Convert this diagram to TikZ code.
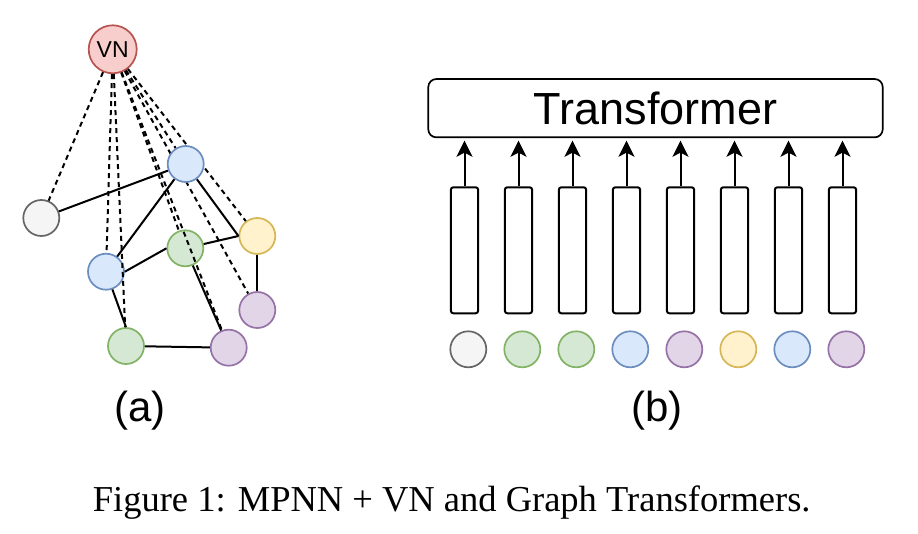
\documentclass[tikz,border=0pt]{standalone}
\usepackage{fontspec}
\setmainfont{Liberation Sans}
\newfontfamily\capfont{Liberation Serif}
\usetikzlibrary{calc,positioning,arrows.meta,backgrounds}
\pgfdeclarelayer{front}
\pgfsetlayers{background,main,front}
\definecolor{redf}{HTML}{F8CECC}\definecolor{redd}{HTML}{B85450}
\definecolor{gryf}{HTML}{F5F5F5}\definecolor{gryd}{HTML}{666666}
\definecolor{bluf}{HTML}{DAE8FC}\definecolor{blud}{HTML}{6C8EBF}
\definecolor{grnf}{HTML}{D5E8D4}\definecolor{grnd}{HTML}{82B366}
\definecolor{yelf}{HTML}{FFF2CC}\definecolor{yeld}{HTML}{D6B656}
\definecolor{purf}{HTML}{E1D5E7}\definecolor{purd}{HTML}{9673A6}

\begin{document}
\begin{tikzpicture}[x=1pt, y=-1pt]
\tikzstyle{vtx}=[circle, draw, line width=1.7pt, minimum size=36pt, inner sep=0pt]
\tikzstyle{rd}=[vtx, draw=redd, fill=redf, minimum size=48pt, font=\fontsize{23}{23}\selectfont]
\tikzstyle{gry}=[vtx, draw=gryd, fill=gryf]
\tikzstyle{blu}=[vtx, draw=blud, fill=bluf]
\tikzstyle{grn}=[vtx, draw=grnd, fill=grnf]
\tikzstyle{yel}=[vtx, draw=yeld, fill=yelf]
\tikzstyle{pur}=[vtx, draw=purd, fill=purf]
\tikzstyle{edg}=[line width=2pt]
\tikzstyle{vnl}=[line width=2pt, dash pattern=on 5pt off 4pt]
\tikzstyle{cell}=[draw, line width=2pt, rounded corners=2.5pt, minimum width=27.3pt, minimum height=126pt, inner sep=0pt]
\tikzstyle{arr}=[line width=2pt, -{Stealth[length=16pt, width=16pt, inset=4pt]}, shorten >=2.5pt]
\useasboundingbox (0,0) rectangle (918,534);
% (a) graph with virtual node
\node[rd] (VN) at (112.7,49.3) {VN};
\node[gry] (g) at (41.3,218) {};
\begin{pgfonlayer}{front}
\node[blu] (b1) at (185.7,164) {};
\end{pgfonlayer}
\node[yel] (y) at (257.3,236) {};
\node[grn] (g1) at (185.3,248.3) {};
\node[blu] (b2) at (106,271.7) {};
\node[pur] (p1) at (257.3,310) {};
\node[grn] (g2) at (126,346) {};
\node[pur] (p2) at (228.7,347.7) {};
\foreach \j in {g,b1,y,g1,b2,p1,g2,p2}{\draw[vnl] (VN) -- (\j);}
\foreach \i/\j in {g/b1,b1/b2,b1/y.west,g1/y.west,b2.east/g1.west,y/p1,b2/g2.north,g1/p2,g2/p2}{\draw[edg] (\i) -- (\j);}
\node[font=\fontsize{42}{42}\selectfont, anchor=base] (la) at (140,421.7) {(a)};
% (b) transformer on node tokens
\node[draw, line width=1.7pt, rounded corners=8pt, minimum width=454.4pt, minimum height=58.3pt, font=\fontsize{45}{45}\selectfont] (T) at (655.5,108.2) {Transformer};
\foreach \i/\s in {1/gry,2/grn,3/grn,4/blu,5/pur,6/yel,7/blu,8/pur}{
  \node[cell] (c\i) at (410.5+54*\i,250.3) {};
  \draw[arr] (c\i.north) -- (c\i.north |- T.south);
  \node[\s] (t\i) at (414.3+54*\i,349.3) {};
}
\node[font=\fontsize{42}{42}\selectfont, anchor=base] (lb) at (656.7,421.7) {(b)};
%\node (cap) caption
\node[font=\capfont\fontsize{36.5}{36.5}\selectfont, anchor=base] (cap) at (451.7,511.3) {Figure 1: MPNN + VN and Graph Transformers.};
\end{tikzpicture}
\end{document}
